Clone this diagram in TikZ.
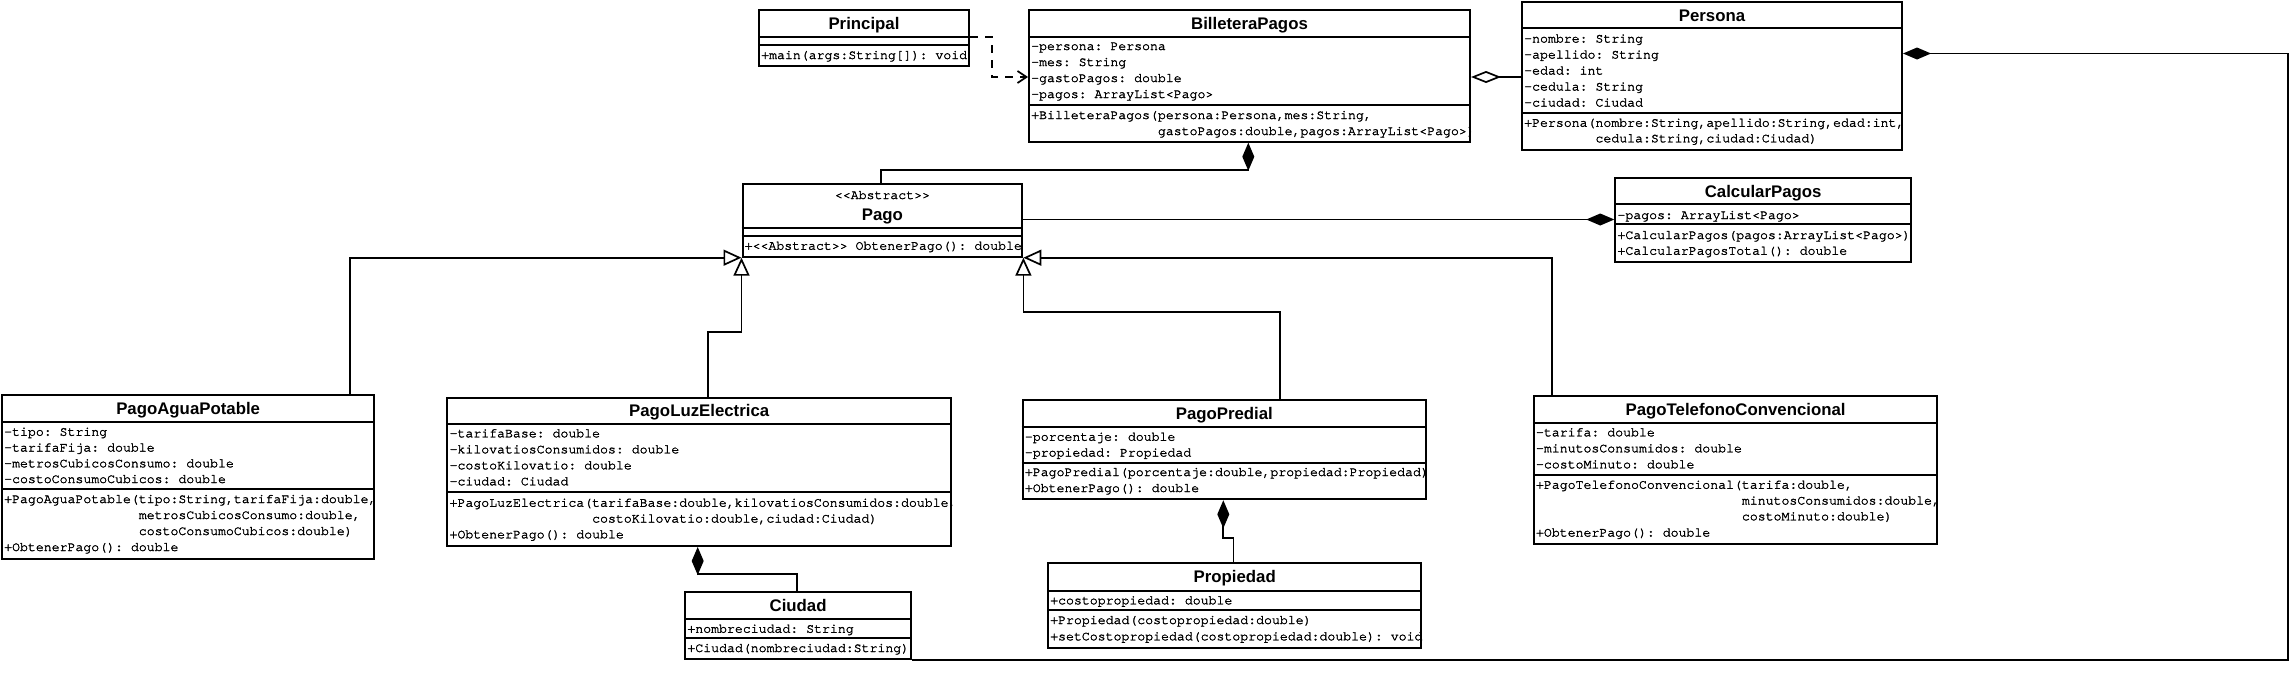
\documentclass[tikz,border=0pt]{standalone}
\usepackage{fontspec}
\setmainfont{Liberation Sans}
\newfontfamily\curfam{texgyrecursor-regular.otf}[FakeBold=2]
\newcommand\crfont{\curfam\fontsize{13.2}{15}\selectfont\frenchspacing}
\usetikzlibrary{arrows.meta}
\tikzset{
  cls/.style={draw, line width=2pt, fill=white, inner sep=0pt, anchor=north west},
  sepl/.style={line width=2pt},
  ttl/.style={font=\bfseries\fontsize{16.8}{18}\selectfont, anchor=base, yshift=-6pt, inner sep=0pt},
  mrow/.style={font=\crfont, anchor=base west, xshift=3pt, yshift=-4pt, inner sep=0pt},
  stereo/.style={font=\crfont, anchor=base, yshift=-4pt, inner sep=0pt},
  conn/.style={line width=1.7pt},
  gen/.style={conn, -{Triangle[open, length=18pt, width=16pt]}},
  comp/.style={conn, {Diamond[length=28pt, width=12pt]}-},
  agg/.style={conn, {Diamond[open, length=30pt, width=12pt]}-},
  dep/.style={conn, dash pattern=on 8pt off 7pt, -{Straight Barb[length=9pt, width=12pt]}}
}
\newcommand\umlbox[5]{\node[cls, minimum width={#4-#2}, minimum height={#5-#3}] (#1) at (#2,#3) {};}
\newcommand\umlsep[2]{\draw[sepl] (#1.west |- 0,#2) -- (#1.east |- 0,#2);}
\newcommand\umltitle[3]{\node[ttl] at (#1.north |- 0,#2) {#3};}
\newcommand\umlrow[3]{\node[mrow] at (#1.west |- 0,#2) {#3};}
\begin{document}
\begin{tikzpicture}[x=1pt, y=-1pt]
\fill[white] (0,0) rectangle (2291,675);
\useasboundingbox (0,0) rectangle (2291,675);

% ---- Principal
\umlbox{principal}{758}{9}{968}{65}
\umltitle{principal}{23}{Principal}
\umlsep{principal}{37.3}
\umlsep{principal}{45}
\umlrow{principal}{55}{+main(args:String[]): void}

% ---- BilleteraPagos
\umlbox{billetera}{1028}{9.3}{1469}{140.7}
\umltitle{billetera}{23}{BilleteraPagos}
\umlsep{billetera}{37}
\umlrow{billetera}{46}{-persona: Persona}
\umlrow{billetera}{62}{-mes: String}
\umlrow{billetera}{78}{-gastoPagos: double}
\umlrow{billetera}{94}{-pagos: ArrayList<Pago>}
\umlsep{billetera}{105}
\umlrow{billetera}{115}{+BilleteraPagos(persona:Persona,mes:String,}
\umlrow{billetera}{131}{\phantom{+BilleteraPagos(}gastoPagos:double,pagos:ArrayList<Pago>)}

% ---- Persona
\umlbox{persona}{1521}{1}{1901}{149.3}
\umltitle{persona}{15}{Persona}
\umlsep{persona}{28.3}
\umlrow{persona}{38.5}{-nombre: String}
\umlrow{persona}{54.5}{-apellido: String}
\umlrow{persona}{70.5}{-edad: int}
\umlrow{persona}{86.5}{-cedula: String}
\umlrow{persona}{102.5}{-ciudad: Ciudad}
\umlsep{persona}{112.7}
\umlrow{persona}{122.7}{+Persona(nombre:String,apellido:String,edad:int,}
\umlrow{persona}{138.3}{\phantom{+Persona(}cedula:String,ciudad:Ciudad)}

% ---- Pago
\umlbox{pago}{741.5}{183.3}{1021.4}{255.7}
\node[stereo] at (pago.north |- 0,195) {<{}<Abstract>{}>};
\umltitle{pago}{214.3}{Pago}
\umlsep{pago}{227.7}
\umlsep{pago}{235.7}
\umlrow{pago}{245.7}{+<{}<Abstract>{}> ObtenerPago(): double}

% ---- CalcularPagos
\umlbox{calc}{1614.3}{176.7}{1910}{260.7}
\umltitle{calc}{191.7}{CalcularPagos}
\umlsep{calc}{204.3}
\umlrow{calc}{215}{-pagos: ArrayList<Pago>}
\umlsep{calc}{224.3}
\umlrow{calc}{235}{+CalcularPagos(pagos:ArrayList<Pago>)}
\umlrow{calc}{250.7}{+CalcularPagosTotal(): double}

% ---- PagoAguaPotable
\umlbox{agua}{1}{394}{373.3}{558.3}
\umltitle{agua}{408.3}{PagoAguaPotable}
\umlsep{agua}{422}
\umlrow{agua}{431.7}{-tipo: String}
\umlrow{agua}{447.5}{-tarifaFija: double}
\umlrow{agua}{463.3}{-metrosCubicosConsumo: double}
\umlrow{agua}{479}{-costoConsumoCubicos: double}
\umlsep{agua}{489.3}
\umlrow{agua}{499}{+PagoAguaPotable(tipo:String,tarifaFija:double,}
\umlrow{agua}{515}{\phantom{+PagoAguaPotable(}metrosCubicosConsumo:double,}
\umlrow{agua}{531}{\phantom{+PagoAguaPotable(}costoConsumoCubicos:double)}
\umlrow{agua}{547}{+ObtenerPago(): double}

% ---- PagoLuzElectrica
\umlbox{luz}{446.4}{396.7}{950}{545}
\umltitle{luz}{410.5}{PagoLuzElectrica}
\umlsep{luz}{424.3}
\umlrow{luz}{433.3}{-tarifaBase: double}
\umlrow{luz}{449.3}{-kilovatiosConsumidos: double}
\umlrow{luz}{465.3}{-costoKilovatio: double}
\umlrow{luz}{481.3}{-ciudad: Ciudad}
\umlsep{luz}{492.3}
\umlrow{luz}{502.7}{+PagoLuzElectrica(tarifaBase:double,kilovatiosConsumidos:double,}
\umlrow{luz}{518.5}{\phantom{+PagoLuzElectrica(}costoKilovatio:double,ciudad:Ciudad)}
\umlrow{luz}{534.3}{+ObtenerPago(): double}

% ---- Ciudad
\umlbox{ciudad}{684.2}{590.7}{910}{657.7}
\umltitle{ciudad}{605}{Ciudad}
\umlsep{ciudad}{619}
\umlrow{ciudad}{628.7}{+nombreciudad: String}
\umlsep{ciudad}{638.3}
\umlrow{ciudad}{648}{+Ciudad(nombreciudad:String)}

% ---- PagoPredial
\umlbox{predial}{1021.7}{399}{1425}{498.3}
\umltitle{predial}{413}{PagoPredial}
\umlsep{predial}{426.7}
\umlrow{predial}{436.7}{-porcentaje: double}
\umlrow{predial}{452.5}{-propiedad: Propiedad}
\umlsep{predial}{462.7}
\umlrow{predial}{472}{+PagoPredial(porcentaje:double,propiedad:Propiedad)}
\umlrow{predial}{488}{+ObtenerPago(): double}

% ---- Propiedad
\umlbox{prop}{1047}{562.3}{1420.4}{646.7}
\umltitle{prop}{576.5}{Propiedad}
\umlsep{prop}{590.7}
\umlrow{prop}{600.3}{+costopropiedad: double}
\umlsep{prop}{610}
\umlrow{prop}{620}{+Propiedad(costopropiedad:double)}
\umlrow{prop}{636.3}{+setCostopropiedad(costopropiedad:double): void}

% ---- PagoTelefonoConvencional
\umlbox{tel}{1532.8}{395}{1936.4}{543.3}
\umltitle{tel}{409}{PagoTelefonoConvencional}
\umlsep{tel}{422.7}
\umlrow{tel}{432.3}{-tarifa: double}
\umlrow{tel}{448.3}{-minutosConsumidos: double}
\umlrow{tel}{464.3}{-costoMinuto: double}
\umlsep{tel}{475}
\umlrow{tel}{484.7}{+PagoTelefonoConvencional(tarifa:double,}
\umlrow{tel}{500.5}{\phantom{+PagoTelefonoConvencional(}minutosConsumidos:double,}
\umlrow{tel}{516.3}{\phantom{+PagoTelefonoConvencional(}costoMinuto:double)}
\umlrow{tel}{532.5}{+ObtenerPago(): double}

% ---- connectors
\draw[dep] (principal.east |- 0,37.3) -- (992,37.3) |- (billetera.west |- 0,77);
\draw[agg] (billetera.east |- 0,77) -- (persona.west |- 0,77);
\draw[comp] (persona.east |- 0,53.5) -- (2288,53.5) |- (ciudad.south east);
\draw[comp] (1248.3,0 |- billetera.south) -- (1248.3,170) -| (881.3,0 |- pago.north);
\draw[comp] (calc.west |- 0,219.5) -- (pago.east |- 0,219.5);
\draw[gen] (349.7,0 |- agua.north) |- (pago.south west);
\draw[gen] (707.8,0 |- luz.north) -- (707.8,332) -| (pago.south west);
\draw[gen] (1280,0 |- predial.north) -- (1280,312.3) -| (pago.south east);
\draw[gen] (1552,0 |- tel.north) |- (pago.south east);
\draw[comp] (697.7,0 |- luz.south) -- (697.7,574.3) -| (797,0 |- ciudad.north);
\draw[comp] (1223.3,0 |- predial.south) -- (1223.3,538) -| (1233.5,0 |- prop.north);
\end{tikzpicture}
\end{document}
